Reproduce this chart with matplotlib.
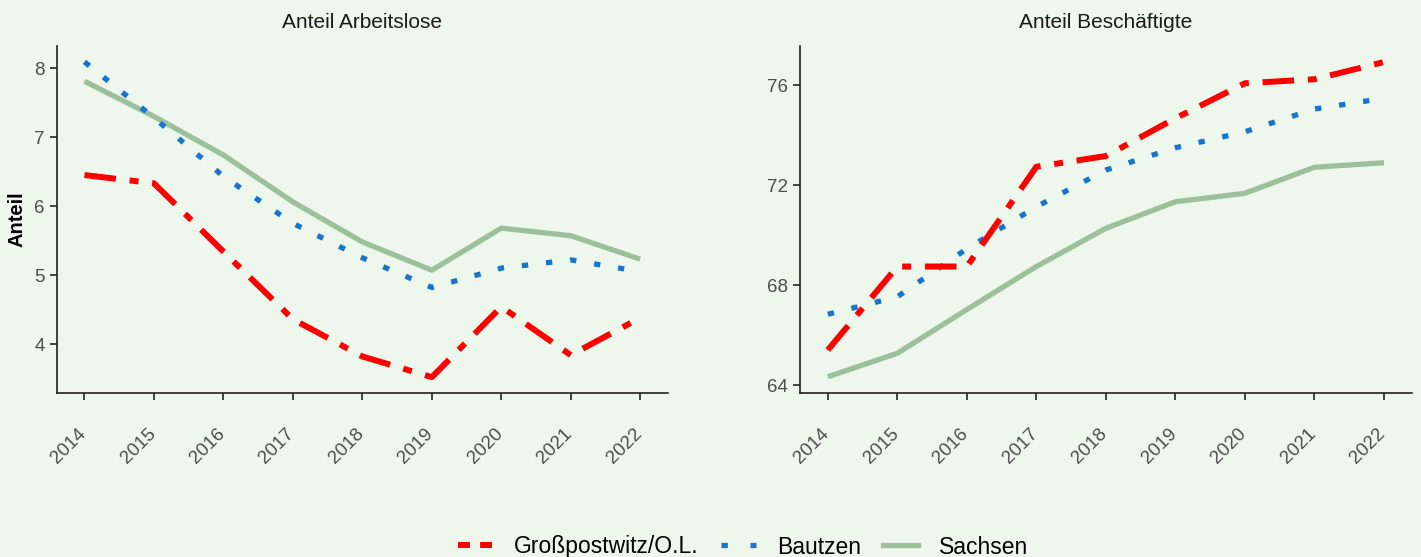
import matplotlib
matplotlib.use("Agg")
import matplotlib.pyplot as plt
import matplotlib.transforms as mtransforms
from matplotlib.lines import Line2D

# data
years = [2014, 2015, 2016, 2017, 2018, 2019, 2020, 2021, 2022]
series_names = ["Großpostwitz/O.L.", "Bautzen", "Sachsen"]

arbeitslose_gross = [6.45, 6.33, 5.34, 4.36, 3.82, 3.52, 4.54, 3.84, 4.38]
arbeitslose_bautzen = [8.09, 7.28, 6.43, 5.75, 5.25, 4.82, 5.10, 5.22, 5.05]
arbeitslose_sachsen = [7.81, 7.30, 6.74, 6.06, 5.48, 5.07, 5.68, 5.57, 5.23]

beschaeftigte_gross = [65.40, 68.74, 68.74, 72.73, 73.16, 74.67, 76.07, 76.23, 76.92]
beschaeftigte_bautzen = [66.83, 67.53, 69.45, 71.13, 72.60, 73.49, 74.13, 75.04, 75.47]
beschaeftigte_sachsen = [64.33, 65.27, 67.02, 68.74, 70.27, 71.33, 71.67, 72.71, 72.89]

titles = ["Anteil Arbeitslose", "Anteil Beschäftigte"]
yticks_left = [4, 5, 6, 7, 8]
yticks_right = [64, 68, 72, 76]

bg = "#EEF7EC"
colors = ["#FF0000", "#1874CD", "#9DC09C"]
styles = [(0, (5.3, 2.3, 1.5, 2.3)), (0, (1.2, 3.4)), "-"]
widths = [4.3, 3.8, 3.8]
zorders = [4, 3, 2]

plt.rcParams["font.family"] = ["Liberation Sans", "DejaVu Sans"]

fig = plt.figure(figsize=(14.21, 5.57), dpi=100, facecolor=bg)
ax1 = fig.add_axes([0.0399, 0.2944, 0.4302, 0.6230])
ax2 = fig.add_axes([0.5630, 0.2944, 0.4305, 0.6230])

panels = [
    (ax1, [arbeitslose_gross, arbeitslose_bautzen, arbeitslose_sachsen], yticks_left, (3.29, 8.32)),
    (ax2, [beschaeftigte_gross, beschaeftigte_bautzen, beschaeftigte_sachsen], yticks_right, (63.68, 77.56)),
]

for i, (ax, data, yt, ylim) in enumerate(panels):
    ax.set_facecolor(bg)
    for vals, c, ls, lw, z in zip(data, colors, styles, widths, zorders):
        ax.plot(years, vals, color=c, linestyle=ls, linewidth=lw, zorder=z,
                solid_capstyle="butt", dash_capstyle="butt")
    ax.set_xlim(2013.6, 2022.4)
    ax.set_ylim(*ylim)
    ax.set_xticks(years)
    ax.set_yticks(yt)
    ax.set_xticklabels([str(y) for y in years], rotation=45, ha="right", va="top")
    ax.tick_params(axis="both", colors="#333333", labelcolor="#4D4D4D",
                   labelsize=13.5, length=5, width=1.3)
    ax.tick_params(axis="x", pad=18)
    ax.tick_params(axis="y", pad=3.5)
    for lab in ax.get_xticklabels():
        lab.set_transform(lab.get_transform() +
                          mtransforms.ScaledTranslation(5 / 100, 0, fig.dpi_scale_trans))
    for side in ["top", "right"]:
        ax.spines[side].set_visible(False)
    for side in ["left", "bottom"]:
        ax.spines[side].set_color("#222222")
        ax.spines[side].set_linewidth(1.2)
    ax.set_title(titles[i], fontsize=15, pad=13, color="#1A1A1A")

ax1.set_ylabel("Anteil", fontsize=14.5, fontweight="bold", labelpad=6)

handles = [Line2D([], [], color=colors[0], linewidth=4.3, linestyle=(0, (2.0, 1.7))),
           Line2D([], [], color=colors[1], linewidth=3.8, linestyle=(0, (1.2, 4.3))),
           Line2D([], [], color=colors[2], linewidth=3.8, linestyle="-")]
fig.legend(handles, series_names, loc="center", bbox_to_anchor=(743 / 1421, 1 - 547 / 557),
           ncol=3, frameon=False, fontsize=16.5, handlelength=1.53,
           handletextpad=0.92, columnspacing=0.96)

fig.savefig("out.png", dpi=100, facecolor=bg)
